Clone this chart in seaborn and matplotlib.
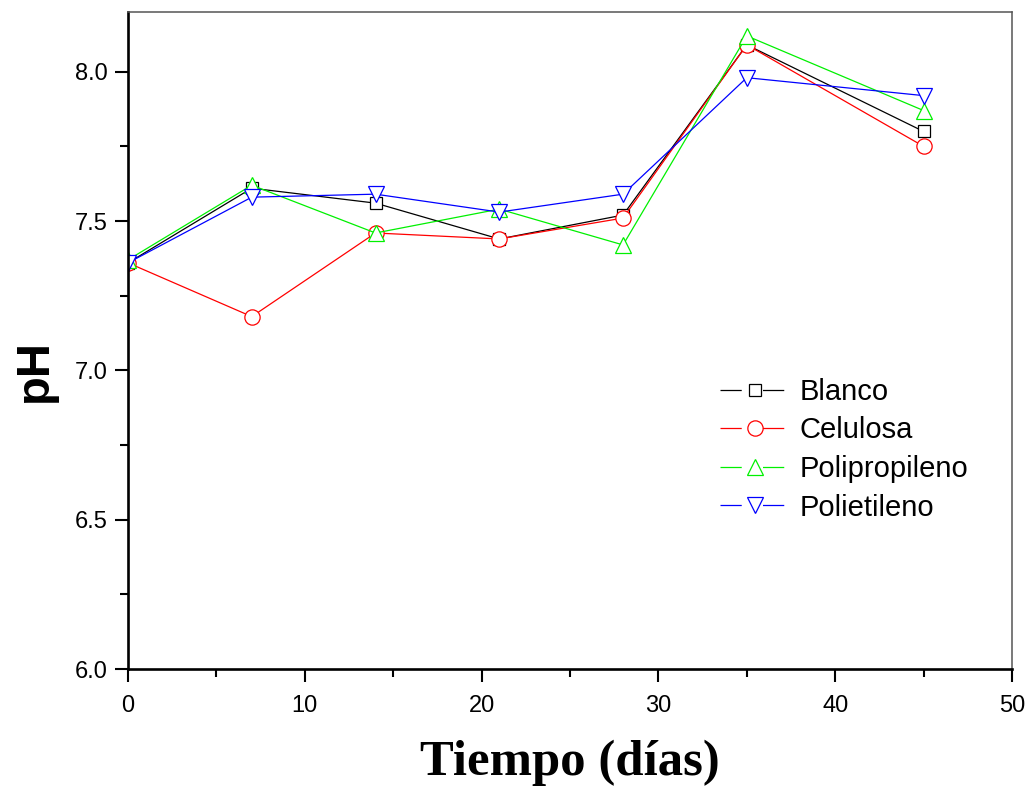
import matplotlib
matplotlib.use("Agg")
import matplotlib.pyplot as plt
from matplotlib.lines import Line2D
from matplotlib.ticker import MultipleLocator
import seaborn as sns
import pandas as pd

# ---- data ----
days = [0, 7, 14, 21, 28, 35, 45]
blanco = [7.36, 7.61, 7.56, 7.44, 7.52, 8.09, 7.80]
celulosa = [7.36, 7.18, 7.46, 7.44, 7.51, 8.09, 7.75]
polipropileno = [7.37, 7.62, 7.46, 7.54, 7.42, 8.12, 7.87]
polietileno = [7.36, 7.58, 7.59, 7.53, 7.59, 7.98, 7.92]

series_names = ["Blanco", "Celulosa", "Polipropileno", "Polietileno"]
series_vals = [blanco, celulosa, polipropileno, polietileno]
colors = ["#000000", "#FF0000", "#00F000", "#0000FF"]
markers = ["s", "o", "^", "v"]
msizes = [9, 11, 12, 12]

sns.set_style("ticks")
plt.rcParams["font.family"] = ["Liberation Sans", "DejaVu Sans"]
plt.rcParams["text.color"] = "black"
plt.rcParams["axes.labelcolor"] = "black"
plt.rcParams["xtick.color"] = "black"
plt.rcParams["ytick.color"] = "black"
plt.rcParams["xtick.labelcolor"] = "black"
plt.rcParams["ytick.labelcolor"] = "black"

fig = plt.figure(figsize=(10.30, 7.87), dpi=100)
ax = fig.add_axes([128 / 1030, 1 - 669 / 787, (1012 - 128) / 1030, (669 - 12) / 787])

for name, vals, c, m, ms in zip(series_names, series_vals, colors, markers, msizes):
    df = pd.DataFrame({"Tiempo": days, "pH": vals})
    sns.lineplot(data=df, x="Tiempo", y="pH", ax=ax, color=c, linewidth=0.9,
                 marker=m, markersize=ms, markerfacecolor="white",
                 markeredgecolor=c, markeredgewidth=0.9, legend=False)

ax.set_xlim(0, 50)
ax.set_ylim(6.0, 8.2)
ax.xaxis.set_major_locator(MultipleLocator(10))
ax.xaxis.set_minor_locator(MultipleLocator(5))
ax.yaxis.set_major_locator(MultipleLocator(0.5))
ax.yaxis.set_minor_locator(MultipleLocator(0.25))
ax.yaxis.set_major_formatter(matplotlib.ticker.FormatStrFormatter("%.1f"))

ax.tick_params(axis="both", which="major", direction="out", length=9.4, width=1.5,
               labelsize=17, color="black", labelcolor="black")
ax.tick_params(axis="both", which="minor", direction="out", length=5.5, width=1.5,
               color="black")
ax.tick_params(axis="y", which="major", pad=5.5)
ax.tick_params(axis="x", which="major", pad=9)
ax.tick_params(top=False, right=False, which="both")

for s in ["left", "bottom"]:
    ax.spines[s].set_color("black")
    ax.spines[s].set_linewidth(1.9)
for s in ["top", "right"]:
    ax.spines[s].set_visible(True)
    ax.spines[s].set_color("#555555")
    ax.spines[s].set_linewidth(1.1)

ax.set_xlabel("Tiempo (días)", fontsize=36.5, fontweight="bold", color="black",
              family=["Liberation Serif", "DejaVu Serif"])
ax.xaxis.set_label_coords(0.5, -0.108)
ax.set_ylabel("pH", fontsize=34, fontweight="bold", color="black")
ax.yaxis.set_label_coords(-0.080, 0.455)

handles = []
for name, c, m, ms in zip(series_names, colors, markers, msizes):
    h = Line2D([], [], color=c, linewidth=0.9, linestyle=(0, (17.0, 17.0)),
               marker=m, markersize=ms, markerfacecolor="none",
               markeredgecolor=c, markeredgewidth=0.9)
    handles.append(h)

leg = ax.legend(handles, series_names, loc="upper left",
                bbox_to_anchor=((720 - 128) / 884, 1 - (378 - 12) / 657),
                frameon=False, fontsize=21, handlelength=2.4, handletextpad=0.34,
                labelspacing=0.36, borderaxespad=0, borderpad=0, numpoints=1)
for t in leg.get_texts():
    t.set_color("black")

fig.savefig("out.png", dpi=100)
